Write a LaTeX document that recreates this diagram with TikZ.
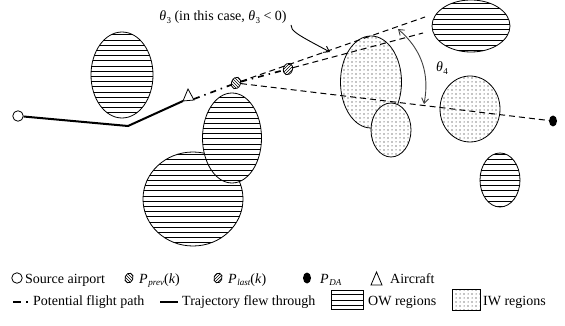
\documentclass[tikz,border=0pt]{standalone}
\usepackage{fontspec}
\setmainfont{Liberation Serif}
\usetikzlibrary{patterns,arrows.meta,shapes.geometric}
\pgfdeclarepatternformonly{owlines}{\pgfqpoint{-1pt}{-1pt}}{\pgfqpoint{11pt}{1pt}}{\pgfqpoint{10pt}{5.2pt}}{%
  \pgfsetlinewidth{0.9pt}\pgfpathmoveto{\pgfqpoint{-1pt}{0pt}}\pgfpathlineto{\pgfqpoint{11pt}{0pt}}\pgfusepath{stroke}}
\pgfdeclarepatternformonly{iwdots}{\pgfqpoint{-1pt}{-1pt}}{\pgfqpoint{9pt}{9pt}}{\pgfqpoint{8pt}{8pt}}{%
  \pgfpathcircle{\pgfqpoint{0pt}{0pt}}{0.55pt}\pgfpathcircle{\pgfqpoint{4pt}{4pt}}{0.55pt}%
  \pgfpathcircle{\pgfqpoint{4pt}{0pt}}{0.5pt}\pgfpathcircle{\pgfqpoint{0pt}{4pt}}{0.5pt}\pgfusepath{fill}}
\newcommand{\thq}[1]{\textit{θ}\kern0.02em\raisebox{-0.45ex}{\fontsize{9}{9}\selectfont #1}}
\newcommand{\psub}[1]{\textit{P}\kern0.05em\raisebox{-0.45ex}{\fontsize{9}{9}\selectfont\itshape #1}}
\begin{document}
\begin{tikzpicture}[x=1pt,y=-1pt,
  ow/.style={draw, line width=0.8pt, preaction={fill=white}, pattern=owlines},
  iw/.style={draw, line width=0.8pt, preaction={fill=white}, pattern=iwdots},
  dashline/.style={line width=1pt, dash pattern=on 6pt off 4pt},
  flight/.style={line width=1.7pt, dash pattern=on 6pt off 5pt on 1.5pt off 5pt},
  traj/.style={line width=2pt},
  pprev/.style={ellipse, draw, line width=0.8pt, inner sep=0, minimum width=9pt, minimum height=12pt, preaction={fill=white}, pattern=north west lines},
  plast/.style={ellipse, draw, line width=0.8pt, inner sep=0, minimum width=9pt, minimum height=12pt, preaction={fill=white}, pattern=north east lines},
  pda/.style={ellipse, fill=black, inner sep=0, minimum width=8pt, minimum height=11pt},
  srcst/.style={circle, draw, line width=0.8pt, inner sep=0, minimum size=10.5pt},
  txt/.style={anchor=base west, inner sep=0, font=\fontsize{14}{16}\selectfont},
  barb/.style={line width=0.9pt, {Straight Barb[length=5pt,width=7pt]}-{Straight Barb[length=5pt,width=7pt]}}
]
\useasboundingbox (0,0) rectangle (565,326);

% regions
\draw[ow] (193,199) ellipse [x radius=50pt, y radius=47pt];
\draw[ow] (232,138) ellipse [x radius=29.5pt, y radius=45pt];
\draw[ow] (122,75) ellipse [x radius=31pt, y radius=43pt];
\draw[ow] (471,26) ellipse [x radius=39pt, y radius=26pt];
\draw[ow] (500,180) ellipse [x radius=20pt, y radius=27pt];
\draw[iw] (371,82) ellipse [x radius=30.5pt, y radius=46pt];
\draw[iw] (391,130) ellipse [x radius=20pt, y radius=27pt];
\draw[iw] (470,109) ellipse [x radius=30pt, y radius=33pt];

% points
\node[srcst] (src) at (18,116) {};
\coordinate (kink) at (128,126);
\coordinate (acl) at (183,101);
\coordinate (acr) at (194,99);
\draw[line width=0.8pt] (acl) -- (188,89) -- (194,100) -- cycle;
\node[pprev, rotate=-20] (prev) at (236,83) {};
\node[plast, rotate=-20] (last) at (288,69) {};
\node[pda] (da) at (553,121) {};
\coordinate (u1) at (425,17);
\coordinate (u2) at (423,33);

\draw[traj] (src) -- (kink) -- (acl);
\draw[flight] (acr) -- (prev);
\draw[flight] (prev) -- (last);
\draw[dashline] (prev) -- (u1);
\draw[dashline] (last) -- (u2);
\draw[dashline] (prev) -- (da);

% angle theta 4
\coordinate (a1) at (398,29);
\coordinate (a2) at (424,104);
\draw[barb, black!75] (a1) to[bend left=30] (a2);
\node[txt, anchor=center] (th4) at (442,68) {\thq{4}};

% theta 3 label
\node[txt, anchor=center] (th3) at (223,17) {\thq{3} (in this case, \thq{3} < 0)};
\coordinate (t3s) at (291,25);
\coordinate (t3e) at (330,52);
\draw[line width=0.9pt, -{Straight Barb[length=5pt,width=7pt]}] (t3s) .. controls (291,31) and (296,34) .. (t3e);

% legend row 1
\node[srcst] (lsrc) at (17,278) {};
\node[txt] (tsrc) at (25,283) {Source airport};
\node[pprev, minimum width=8pt, minimum height=10pt, rotate=-20] (lprev) at (129,278) {};
\node[txt] (tprev) at (139,283) {\psub{prev}(\textit{k})};
\node[plast, minimum width=8pt, minimum height=10pt, rotate=-20] (llast) at (218,278) {};
\node[txt] (tlast) at (228,283) {\psub{last}(\textit{k})};
\node[pda] (lda) at (307,278) {};
\node[txt] (tda) at (320,283) {\psub{DA}};
\draw[line width=0.8pt] (371,285) -- (376.5,272) -- (382,285) -- cycle;
\node[txt] (tac) at (390,283) {Aircraft};

% legend row 2
\coordinate (fl1) at (13,302);
\coordinate (fl2) at (29,302);
\draw[line width=2pt, dash pattern=on 8pt off 5pt on 1.6pt off 5pt] (fl1) -- (fl2);
\node[txt] (tfl) at (33,305) {Potential flight path};
\coordinate (tr1) at (160,302);
\coordinate (tr2) at (178,302);
\draw[traj] (tr1) -- (tr2);
\node[txt] (ttr) at (182,305) {Trajectory flew through};
\draw[line width=0.8pt, pattern=owlines] (331,290) rectangle (363,309);
\node[txt] (tow) at (368,305) {OW regions};
\draw[line width=0.5pt, pattern=iwdots] (452,289) rectangle (480,310);
\node[txt] (tiw) at (483,305) {IW regions};
\end{tikzpicture}
\end{document}
